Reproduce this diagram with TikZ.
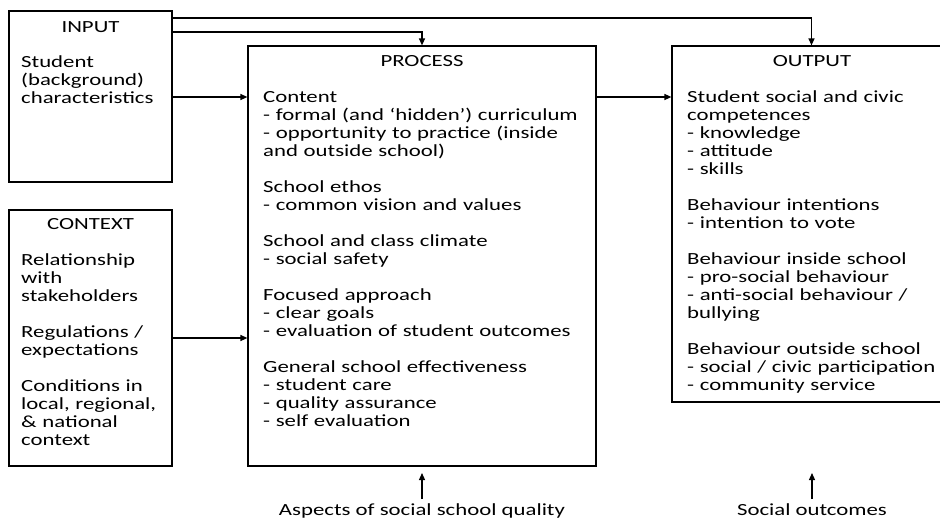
\documentclass[tikz,border=0pt]{standalone}
\usepackage{fontspec}
\setmainfont{Carlito}[FakeStretch=1.34]
\usetikzlibrary{arrows.meta}
\begin{document}
\begin{tikzpicture}[x=1pt,y=-1pt,
  every node/.style={font=\fontsize{17}{18}\selectfont, inner sep=0pt},
  boxnode/.style={draw=black, line width=1.2pt, rectangle},
  txt/.style={anchor=base west, align=left, text width=330pt},
  ttl/.style={anchor=base},
  arr/.style={line width=1.2pt, -{Triangle[length=7pt,width=6pt]}}]
\useasboundingbox (0,0) rectangle (940,520);
% boxes
\node[boxnode, minimum width=163pt, minimum height=171pt] (input) at (90.5,96.5) {};
\node[boxnode, minimum width=163pt, minimum height=256pt] (context) at (90.5,338) {};
\node[boxnode, minimum width=348pt, minimum height=420pt] (process) at (422,256) {};
\node[boxnode, minimum width=279pt, minimum height=356pt] (output) at (811.5,224) {};
% titles
\node[ttl] (inputtitle) at (90.5,32) {INPUT};
\node[ttl] (contexttitle) at (90.5,229) {CONTEXT};
\node[ttl] (processtitle) at (422,66) {PROCESS};
\node[ttl] (outputtitle) at (812,66) {OUTPUT};
% texts
\node[txt] (inputtext) at (21,67) {Student\\(background)\\characteristics};
\node[txt] (contexttext) at (21,265) {Relationship\\with\\stakeholders\\[18pt]Regulations /\\expectations\\[18pt]Conditions in\\local, regional,\\\& national\\context};
\node[txt] (processtext) at (263,102) {Content\\- formal (and ‘hidden’) curriculum\\- opportunity to practice (inside\\and outside school)\\[18pt]School ethos\\- common vision and values\\[18pt]School and class climate\\- social safety\\[18pt]Focused approach\\- clear goals\\- evaluation of student outcomes\\[18pt]General school effectiveness\\- student care\\- quality assurance\\- self evaluation};
\node[txt] (outputtext) at (687,102) {Student social and civic\\competences\\- knowledge\\- attitude\\- skills\\[18pt]Behaviour intentions\\- intention to vote\\[18pt]Behaviour inside school\\- pro-social behaviour\\- anti-social behaviour /\\bullying\\[18pt]Behaviour outside school\\- social / civic participation\\- community service};
% bottom labels
\node[ttl, inner sep=4pt] (aspects) at (422,515) {Aspects of social school quality};
\node[ttl, inner sep=4pt] (socialout) at (812,515) {Social outcomes};
% connectors
\coordinate (yA) at (0,18);
\coordinate (yB) at (0,32);
\coordinate (yC) at (0,97);
\coordinate (yD) at (0,338);
\coordinate (q1) at (422,473);
\coordinate (q2) at (812,473);
\draw[arr] (input.east |- yA) -| (output.north);
\draw[arr] (input.east |- yB) -| (process.north);
\draw[arr] (input.east |- yC) -- (process.west |- yC);
\draw[arr] (context.east |- yD) -- (process.west |- yD);
\draw[arr] (process.east |- yC) -- (output.west |- yC);
\draw[arr] (aspects.north) -- (q1);
\draw[arr] (socialout.north) -- (q2);
\end{tikzpicture}
\end{document}
